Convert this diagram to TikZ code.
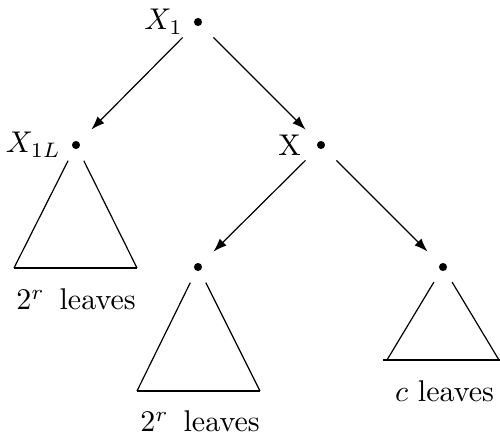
\documentclass[tikz,border=0pt]{standalone}
\usetikzlibrary{arrows.meta}
\begin{document}
\begin{tikzpicture}[x=0.3333pt,y=-0.3333pt,
  dot/.style={circle,fill,inner sep=0pt,minimum size=2.7pt},
  edge/.style={-{Latex[length=4.5pt,width=3.2pt]},line width=0.4pt,shorten <=5.7pt,shorten >=5.7pt},
  side/.style={line width=0.4pt,shorten <=4.3pt},
  basel/.style={line width=0.9pt},
  lab/.style={anchor=base}]
\useasboundingbox (0,0) rectangle (500,439);
% nodes
\node[dot,label={left:$X_1$}] (x1) at (198,22) {};
\node[dot,label={left:$X_{1L}$}] (x1l) at (76,145) {};
\node[dot,label={[label distance=1.6pt]left:X}] (x) at (321,145) {};
\node[dot] (bl) at (198,267) {};
\node[dot] (br) at (443,267) {};
% arrows
\draw[edge] (x1) -- (x1l);
\draw[edge] (x1) -- (x);
\draw[edge] (x) -- (bl);
\draw[edge] (x) -- (br);
% triangle 1
\coordinate (t1l) at (14,268);
\coordinate (t1r) at (137,268);
\draw[side] (x1l) -- (t1l);
\draw[side] (x1l) -- (t1r);
\draw[basel] (t1l) -- (t1r);
\node[lab] (l1) at (76,310) {$2^r$\hspace{5pt}leaves};
% triangle 2
\coordinate (t2l) at (137,391);
\coordinate (t2r) at (260,391);
\draw[side] (bl) -- (t2l);
\draw[side] (bl) -- (t2r);
\draw[basel] (t2l) -- (t2r);
\node[lab] (l2) at (200,432) {$2^r$\hspace{5pt}leaves};
% triangle 3
\coordinate (t3l) at (387,360);
\coordinate (t3r) at (499,360);
\coordinate (b3l) at (383,360);
\coordinate (b3r) at (500,360);
\draw[side] (br) -- (t3l);
\draw[side] (br) -- (t3r);
\draw[basel] (b3l) -- (b3r);
\node[lab] (l3) at (444.5,402) {$c$ leaves};
\end{tikzpicture}
\end{document}
